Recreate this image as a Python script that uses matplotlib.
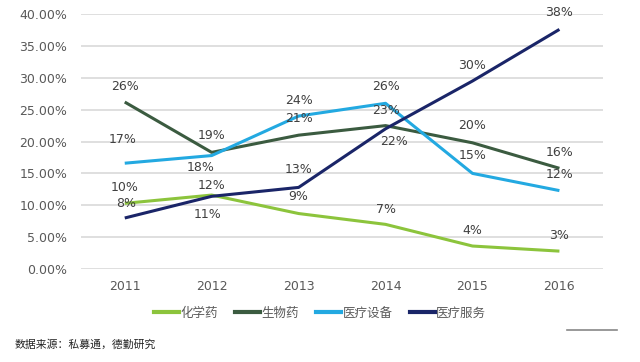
import numpy as np
import matplotlib.pyplot as plt
from matplotlib.lines import Line2D

plt.rcParams['font.family'] = ['DejaVu Sans', 'Noto Sans CJK SC']

years = ['2011', '2012', '2013', '2014', '2015', '2016']
chem = [10.3, 11.6, 8.7, 7.0, 3.6, 2.8]
bio = [26.2, 18.3, 21.0, 22.5, 19.8, 15.8]
device = [16.6, 17.8, 24.0, 26.0, 15.0, 12.3]
service = [8.0, 11.4, 12.8, 22.0, 29.5, 37.6]

names = ['化学药', '生物药', '医疗设备', '医疗服务']
colors = ['#8cc43c', '#3b5b40', '#23a9e1', '#1a2568']

# data labels: text, x index, y position (%)
lab_chem = ['10%', '12%', '9%', '7%', '4%', '3%']
lab_bio = ['26%', '19%', '21%', '23%', '20%', '16%']
lab_device = ['17%', '18%', '24%', '26%', '15%', '12%']
lab_service = ['8%', '11%', '13%', '22%', '30%', '38%']

pos_chem = [(0, 12.8), (1, 13.1), (2, 11.4), (3, 9.3), (4, 6.1), (5, 5.3)]
pos_bio = [(0, 28.6), (1, 21.0), (2, 23.6), (3, 24.8), (4, 22.5), (5, 18.3)]
pos_device = [(-0.02, 20.3), (0.87, 15.9), (2, 26.4), (3, 28.6), (4, 17.8), (5, 14.9)]
pos_service = [(0.02, 10.3), (0.95, 8.5), (2, 15.6), (3.1, 20.0), (4, 31.9), (5, 40.2)]

fig = plt.figure(figsize=(6.4, 3.62), dpi=100)
ax = fig.add_axes([0.127, 0.257, 0.815, 0.704])

x = np.arange(len(years))
series = [chem, bio, device, service]
for vals, c in zip(series, colors):
    ax.plot(x, np.array(vals) / 100, color=c, lw=2.2, solid_capstyle='butt')

for labs, poss in zip([lab_chem, lab_bio, lab_device, lab_service],
                      [pos_chem, pos_bio, pos_device, pos_service]):
    for t, (px, py) in zip(labs, poss):
        ax.text(px, py / 100, t, ha='center', va='center', fontsize=9, color='#404040')

ax.set_xlim(-0.5, 5.5)
ax.set_ylim(0, 0.40)
ax.set_yticks(np.arange(0, 0.401, 0.05))
ax.set_yticklabels(['%.2f%%' % (v * 100) for v in np.arange(0, 0.401, 0.05)])
ax.set_xticks(x)
ax.set_xticklabels(years)
ax.tick_params(length=0, labelsize=9, colors='#595959', pad=8)
ax.tick_params(axis='y', pad=10)
ax.grid(axis='y', color='#d9d9d9', lw=1.2)
ax.set_axisbelow(True)
for s in ax.spines.values():
    s.set_visible(False)

handles = [Line2D([], [], color=c, lw=3) for c in colors]
leg = fig.legend(handles, names, loc='center', bbox_to_anchor=(0.5, 0.135), ncol=4,
                 frameon=False, handlelength=2.0, handletextpad=0.1, columnspacing=1.4,
                 prop={'family': ['Noto Sans CJK SC'], 'size': 9})
for t in leg.get_texts():
    t.set_color('#595959')

fig.text(0.022, 0.047, '数据来源：私募通，德勤研究', fontsize=7.8, color='#222222',
         family=['Noto Sans CJK SC'], va='center')
fig.add_artist(Line2D([0.886, 0.964], [0.088, 0.088], color='#888888', lw=1.2))

fig.savefig('out.png', dpi=100)
